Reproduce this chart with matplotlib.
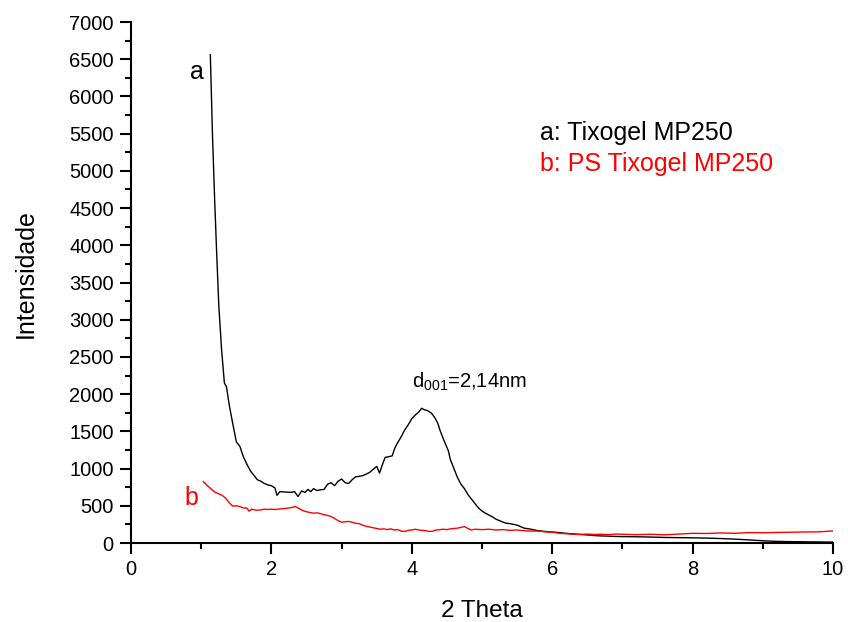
import matplotlib
matplotlib.use("Agg")
import matplotlib.pyplot as plt
from matplotlib.ticker import MultipleLocator

plt.rcParams['font.family'] = ['Liberation Sans', 'DejaVu Sans']

xa = [1.13, 1.16, 1.19, 1.22, 1.25, 1.29, 1.33, 1.36, 1.40, 1.45, 1.50, 1.55, 1.60, 1.65,
      1.70, 1.75, 1.80, 1.85, 1.90, 1.95, 2.00, 2.05, 2.08, 2.12, 2.20, 2.28, 2.33, 2.38,
      2.43, 2.48, 2.52, 2.56, 2.60, 2.65, 2.70, 2.75, 2.80, 2.85, 2.90, 2.95, 3.00, 3.05,
      3.10, 3.15, 3.20, 3.25, 3.30, 3.35, 3.40, 3.45, 3.50, 3.54, 3.58, 3.62, 3.67, 3.72,
      3.76, 3.80, 3.85, 3.90, 3.95, 4.00, 4.05, 4.10, 4.14, 4.18, 4.22, 4.28, 4.33, 4.37,
      4.40, 4.44, 4.48, 4.52, 4.55, 4.60, 4.65, 4.70, 4.75, 4.80, 4.85, 4.90, 4.95, 5.00,
      5.05, 5.10, 5.15, 5.20, 5.25, 5.30, 5.35, 5.40, 5.45, 5.50, 5.55, 5.60, 5.70, 5.80,
      5.90, 6.00, 6.10, 6.20, 6.30, 6.40, 6.50, 6.60, 6.70, 6.80, 6.90, 7.00, 7.20, 7.40,
      7.60, 7.80, 8.00, 8.20, 8.40, 8.60, 8.80, 9.00, 9.20, 9.40, 9.60, 9.80, 10.00]
ya = [6560, 5500, 4650, 3900, 3200, 2600, 2150, 2100, 1850, 1600, 1360, 1300, 1160, 1060,
      970, 910, 850, 830, 800, 780, 770, 740, 640, 690, 685, 680, 690, 625,
      700, 680, 720, 690, 730, 705, 715, 720, 790, 810, 770, 830, 860, 810,
      800, 850, 890, 895, 905, 925, 950, 990, 1030, 940, 1050, 1150, 1160, 1170,
      1280, 1350, 1430, 1520, 1590, 1670, 1720, 1760, 1810, 1790, 1780, 1745, 1680, 1610,
      1520, 1420, 1330, 1240, 1120, 1000, 880, 790, 730, 650, 590, 530, 470, 430,
      400, 375, 350, 320, 300, 280, 265, 260, 250, 240, 220, 200, 185, 165,
      155, 148, 140, 130, 122, 115, 108, 100, 95, 92, 88, 86, 84, 80,
      75, 72, 70, 66, 60, 52, 42, 30, 22, 18, 16, 14, 12]

xb = [1.03, 1.10, 1.15, 1.20, 1.25, 1.30, 1.35, 1.40, 1.45, 1.50, 1.55, 1.60, 1.65, 1.68,
      1.72, 1.76, 1.80, 1.85, 1.90, 1.95, 2.00, 2.05, 2.10, 2.15, 2.20, 2.25, 2.30, 2.34,
      2.40, 2.45, 2.50, 2.55, 2.60, 2.65, 2.70, 2.75, 2.80, 2.85, 2.90, 2.95, 3.00, 3.05,
      3.10, 3.15, 3.20, 3.25, 3.30, 3.35, 3.40, 3.45, 3.50, 3.55, 3.60, 3.65, 3.70, 3.75,
      3.80, 3.85, 3.90, 3.95, 4.00, 4.05, 4.10, 4.15, 4.20, 4.25, 4.30, 4.35, 4.40, 4.45,
      4.50, 4.55, 4.60, 4.65, 4.70, 4.75, 4.80, 4.85, 4.90, 5.00, 5.10, 5.20, 5.30, 5.40,
      5.50, 5.60, 5.70, 5.80, 5.90, 6.00, 6.10, 6.20, 6.30, 6.40, 6.50, 6.60, 6.70, 6.80,
      6.90, 7.00, 7.20, 7.40, 7.60, 7.80, 8.00, 8.20, 8.40, 8.60, 8.80, 9.00, 9.20, 9.40,
      9.60, 9.80, 10.00]
yb = [825, 760, 720, 680, 660, 640, 600, 540, 495, 500, 490, 470, 470, 430,
      455, 445, 440, 445, 455, 450, 455, 450, 455, 460, 465, 470, 480, 490,
      460, 435, 420, 410, 400, 405, 395, 380, 370, 355, 330, 300, 280, 285,
      290, 280, 265, 260, 240, 225, 215, 205, 195, 185, 190, 180, 190, 175,
      180, 160, 155, 170, 175, 185, 175, 170, 165, 155, 160, 175, 180, 185,
      180, 190, 195, 200, 210, 220, 195, 175, 185, 180, 185, 175, 180, 170,
      175, 165, 160, 160, 150, 145, 130, 125, 118, 115, 120, 115, 118, 112,
      120, 118, 112, 118, 110, 120, 130, 128, 135, 130, 140, 138, 142, 145,
      148, 150, 162]

fig = plt.figure(figsize=(8.48, 6.22), dpi=100)
ax = fig.add_axes([0.1545, 0.127, 0.8278, 0.8376])
ax.plot(xa, ya, color='black', lw=1.0)
ax.plot(xb, yb, color='red', lw=1.0)

ax.set_xlim(0, 10)
ax.set_ylim(0, 7000)
ax.xaxis.set_major_locator(MultipleLocator(2))
ax.xaxis.set_minor_locator(MultipleLocator(1))
ax.yaxis.set_major_locator(MultipleLocator(500))
ax.yaxis.set_minor_locator(MultipleLocator(250))
for s in ['top', 'right']:
    ax.spines[s].set_visible(False)
for s in ['left', 'bottom']:
    ax.spines[s].set_linewidth(1.5)
ax.tick_params(which='major', direction='out', length=8, width=1.5, labelsize=14.5, pad=4.5)
ax.tick_params(which='minor', direction='out', length=4, width=1.5)
ax.set_xlabel('2 Theta', fontsize=17.5)
ax.xaxis.label.set_va('baseline')
ax.xaxis.set_label_coords(0.5, -0.142)
ax.set_ylabel('Intensidade', fontsize=18)
ax.yaxis.set_label_coords(-0.133, 0.518)

ax.text(0.945, 6328, 'a', fontsize=18, color='black', ha='center', va='center')
ax.text(0.855, 605, 'b', fontsize=18, color='red', ha='center', va='center')
ax.text(5.83, 5414, 'a: Tixogel MP250', fontsize=18, color='black', ha='left', va='baseline')
ax.text(5.83, 4994, 'b: PS Tixogel MP250', fontsize=18, color='red', ha='left', va='baseline')
ax.text(4.0, 2082, r'd$_{\mathregular{001}}$=2,14nm', fontsize=14.5, color='black', ha='left', va='baseline')

fig.savefig('out.png', dpi=100)
